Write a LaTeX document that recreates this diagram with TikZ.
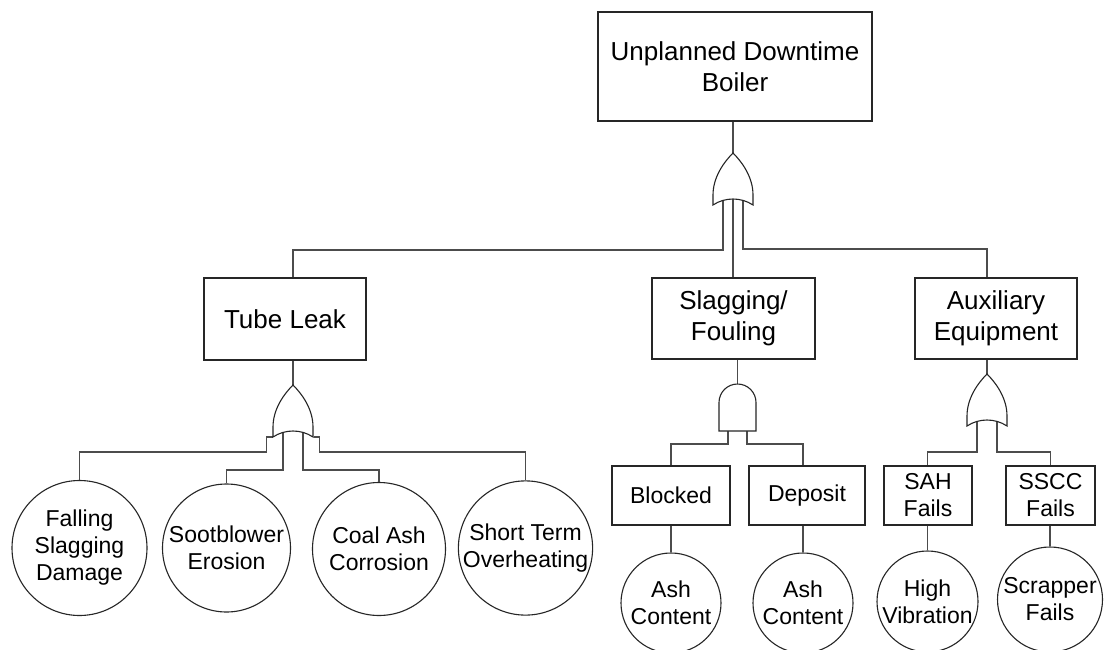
\documentclass[tikz,border=0pt]{standalone}
\usepackage{fontspec}
\setmainfont{Liberation Sans}
\usetikzlibrary{calc}

\tikzset{
gateline/.style={draw=black!85, fill=white, line width=1.1pt},
orgate/.pic={\path[gateline] (0,0) .. controls (-9,9) and (-20,24) .. (-20,42) -- (-20,52) .. controls (-8,44) and (8,44) .. (20,52) -- (20,42) .. controls (20,24) and (9,9) .. (0,0) -- cycle;},
andgate/.pic={\path[gateline] (-18.5,47) -- (-18.5,18.5) .. controls (-18.5,8.3) and (-10.2,0) .. (0,0) .. controls (10.2,0) and (18.5,8.3) .. (18.5,18.5) -- (18.5,47) -- cycle;}
}

\begin{document}
\begin{tikzpicture}[x=1pt, y=-1pt,
evbox/.style={draw=black!85, line width=1.1pt, rectangle, inner sep=0pt, align=center},
bigfont/.style={font=\fontsize{26}{30.5}\selectfont},
smallfont/.style={font=\fontsize{23}{27}\selectfont},
basic/.style={draw=black!85, line width=1.1pt, circle, inner sep=0pt, align=center, smallfont},
link/.style={draw=black!70, line width=1.1pt}]
\path[fill=white, use as bounding box] (0,0) rectangle (1105,650);

\node[evbox, bigfont, minimum width=274pt, minimum height=109pt] (top) at (735,66.5) {Unplanned Downtime\\Boiler};
\node[evbox, bigfont, minimum width=162pt, minimum height=82pt] (tube) at (285,319) {Tube Leak};
\node[evbox, bigfont, minimum width=163pt, minimum height=81pt] (slag) at (733.5,318.5) {Slagging/\\Fouling};
\node[evbox, bigfont, minimum width=162pt, minimum height=81pt] (aux) at (996,318.5) {Auxiliary\\Equipment};

\node[evbox, smallfont, minimum width=118pt, minimum height=59pt] (blocked) at (671,495.5) {Blocked};
\node[evbox, smallfont, minimum width=116pt, minimum height=59pt] (deposit) at (807,495.5) {Deposit};
\node[evbox, smallfont, minimum width=88pt, minimum height=59pt] (sah) at (928,495.5) {SAH\\Fails};
\node[evbox, smallfont, minimum width=89pt, minimum height=59pt] (sscc) at (1050.5,495.5) {SSCC\\Fails};

\node[basic, minimum size=135pt] (falling) at (79.5,548) {Falling\\Slagging\\Damage};
\node[basic, minimum size=128pt] (soot) at (226.5,548) {Sootblower\\Erosion};
\node[basic, minimum size=133pt] (coal) at (379,549) {Coal Ash\\Corrosion};
\node[basic, minimum size=131pt] (short) at (525.5,548) {Short Term\\Overheating};
\node[basic, minimum size=100pt] (ash1) at (671,603) {Ash\\Content};
\node[basic, minimum size=100pt] (ash2) at (803,603) {Ash\\Content};
\node[basic, minimum size=101pt] (vib) at (927.5,601.5) {High\\Vibration};
\node[basic, minimum size=105pt] (scrap) at (1050,599.5) {Scrapper\\Fails};

\coordinate (gTop) at (733,153);
\coordinate (gTube) at (293,385);
\coordinate (gSlag) at (737.5,384);
\coordinate (gAux) at (987,374);

\draw[link] (top.south -| gTop) -- (gTop);
\draw[link] (gTop) ++(-10,46) -- ++(0,51) -| (tube.north -| gTube);
\draw[link] (gTop) -- (slag.north -| gTop);
\draw[link] (gTop) ++(10,46) -- ++(0,50) -| (aux.north -| gAux);

\draw[link] (tube.south -| gTube) -- (gTube);
\draw[link] (gTube) ++(-20.5,52) -- ++(-6,0) -- ++(0,15) -| (falling.north);
\draw[link] (gTube) ++(-10,46) -- ++(0,39) -| (soot.north);
\draw[link] (gTube) ++(10,46) -- ++(0,39) -| (coal.north);
\draw[link] (gTube) ++(20.5,52) -- ++(6,0) -- ++(0,15) -| (short.north);

\draw[link] (slag.south -| gSlag) -- (gSlag);
\draw[link] (gSlag) ++(-9.5,46) -- ++(0,14) -| (blocked.north);
\draw[link] (gSlag) ++(9.5,46) -- ++(0,14) -| (deposit.north -| ash2);
\draw[link] (blocked.south -| ash1) -- (ash1.north);
\draw[link] (deposit.south -| ash2) -- (ash2.north);

\draw[link] (aux.south -| gAux) -- (gAux);
\draw[link] (gAux) ++(-10,46) -- ++(0,32) -| (sah.north -| vib);
\draw[link] (gAux) ++(10,46) -- ++(0,32) -| (sscc.north);
\draw[link] (sah.south -| vib) -- (vib.north);
\draw[link] (sscc.south -| scrap) -- (scrap.north);

\pic at (gTop) {orgate};
\pic at (gTube) {orgate};
\pic at (gSlag) {andgate};
\pic at (gAux) {orgate};
\end{tikzpicture}
\end{document}
